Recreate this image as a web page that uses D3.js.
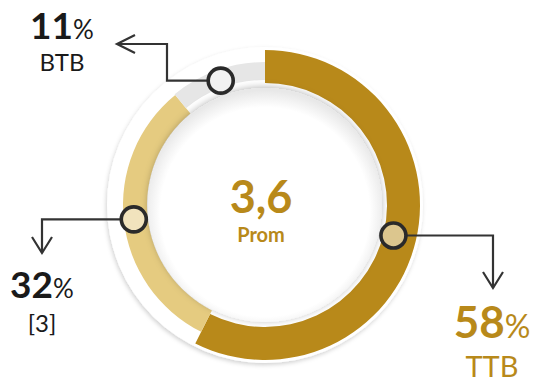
<!DOCTYPE html>
<html>
<head>
<meta charset="utf-8">
<script src="https://cdn.jsdelivr.net/npm/d3@7/dist/d3.min.js"></script>
<style>
  html, body { margin: 0; padding: 0; background: #ffffff; }
  svg { display: block; font-family: Lato, "Open Sans", sans-serif; }
</style>
</head>
<body>
<svg id="chart" width="537" height="382"></svg>
<script>
// Share of answers by group (top, middle, bottom box)
const categories = ["TTB", "[3]", "BTB"];
const values = [58, 32, 11];
const averageValue = "3,6";
const averageLabel = "Prom";

const segmentColors = ["#b8891a", "#e5cb80", "#e6e6e6"];
const markerColors = ["#dcc68e", "#f1e3bd", "#f2f2f2"];
const valueColors = ["#b8891a", "#1a1a1a", "#1a1a1a"];
const nameColors = ["#b8891a", "#1a1a1a", "#1a1a1a"];

const svg = d3.select("#chart");
const cx = 265, cy = 205;

const defs = svg.append("defs");
const rimShadow = defs.append("filter").attr("id", "rimShadow")
  .attr("x", "-20%").attr("y", "-20%").attr("width", "140%").attr("height", "140%");
rimShadow.append("feDropShadow").attr("dx", -1).attr("dy", 2)
  .attr("stdDeviation", 2).attr("flood-color", "#000").attr("flood-opacity", 0.18);

const discShadow = defs.append("filter").attr("id", "discShadow")
  .attr("x", "-20%").attr("y", "-20%").attr("width", "140%").attr("height", "140%");
discShadow.append("feDropShadow").attr("dx", 0).attr("dy", -1)
  .attr("stdDeviation", 3.5).attr("flood-color", "#000").attr("flood-opacity", 0.28);

const discGrad = defs.append("radialGradient").attr("id", "discGrad")
  .attr("cx", "50%").attr("cy", "53%").attr("r", "52%");
discGrad.append("stop").attr("offset", "86%").attr("stop-color", "#ffffff");
discGrad.append("stop").attr("offset", "100%").attr("stop-color", "#e8e8e8");

const g = svg.append("g").attr("transform", `translate(${cx},${cy})`);

// white backing rim
g.append("circle").attr("r", 158).attr("fill", "#ffffff")
  .attr("filter", "url(#rimShadow)");

const pie = d3.pie().sort(null).startAngle(0).endAngle(2 * Math.PI);
const arcsData = pie(values);

// each band sits at its own depth in the rim
const bandRadii = [[122, 155], [118, 142], [125, 143]];

g.selectAll("path.band")
  .data(arcsData)
  .join("path")
  .attr("class", "band")
  .attr("fill", (d, i) => segmentColors[i])
  .attr("d", (d, i) => d3.arc().innerRadius(bandRadii[i][0]).outerRadius(bandRadii[i][1])(d));

// centre disc
g.append("circle").attr("r", 117).attr("fill", "url(#discGrad)")
  .attr("filter", "url(#discShadow)");

// average in the middle
const center = svg.append("g");
center.append("text").attr("x", 261).attr("y", 213)
  .attr("text-anchor", "middle").attr("font-weight", 700)
  .attr("font-size", 45).attr("fill", "#b8891a").text(averageValue);
center.append("text").attr("x", 261).attr("y", 242)
  .attr("text-anchor", "middle").attr("font-weight", 700)
  .attr("font-size", 20).attr("fill", "#b8891a").text(averageLabel);

// marker points on the band midline
const midArc = d3.arc().innerRadius(132).outerRadius(132);
const markers = arcsData.map(d => {
  const [x, y] = midArc.centroid(d);
  return [cx + x, cy + y];
});

// leader lines: elbow then arrow tip
const lead = [
  { via: [[493, null], [493, 288]], tip: [493, 288], dir: "down" },
  { via: [[42, null], [42, 253]], tip: [42, 253], dir: "down" },
  { via: [[167, null], [167, 44], [117, 44]], tip: [117, 44], dir: "left" }
];

const lines = svg.append("g").attr("fill", "none").attr("stroke", "#333333")
  .attr("stroke-width", 2.2).attr("stroke-linejoin", "miter");

lead.forEach((l, i) => {
  const [mx, my] = markers[i];
  const pts = [[mx, my]];
  l.via.forEach(([x, y]) => pts.push([x, y === null ? my : y]));
  lines.append("path").attr("d", d3.line()(pts));
  const [tx, ty] = l.tip;
  const head = l.dir === "down"
    ? [[tx - 10, ty - 16], [tx, ty], [tx + 10, ty - 16]]
    : [[tx + 18, ty - 9], [tx, ty], [tx + 18, ty + 9]];
  lines.append("path").attr("d", d3.line()(head));
});

svg.append("g").selectAll("circle")
  .data(markers)
  .join("circle")
  .attr("cx", d => d[0]).attr("cy", d => d[1]).attr("r", 12.5)
  .attr("fill", (d, i) => markerColors[i])
  .attr("stroke", "#2a2a2a").attr("stroke-width", 3.6);

// value labels
const labelPos = [
  { x: 492, y: 338, ny: 377, big: 44, pct: 32, name: 29 },
  { x: 42, y: 298, ny: 332, big: 37, pct: 26, name: 24 },
  { x: 62, y: 39, ny: 71, big: 37, pct: 26, name: 24 }
];

labelPos.forEach((p, i) => {
  const t = svg.append("text").attr("x", p.x).attr("y", p.y)
    .attr("text-anchor", "middle").attr("fill", valueColors[i]);
  t.append("tspan").attr("font-weight", 700).attr("font-size", p.big).text(values[i]);
  t.append("tspan").attr("font-weight", 400).attr("font-size", p.pct).text("%");
  svg.append("text").attr("x", p.x).attr("y", p.ny)
    .attr("text-anchor", "middle").attr("font-size", p.name)
    .attr("fill", nameColors[i]).text(categories[i]);
});
</script>
</body>
</html>
